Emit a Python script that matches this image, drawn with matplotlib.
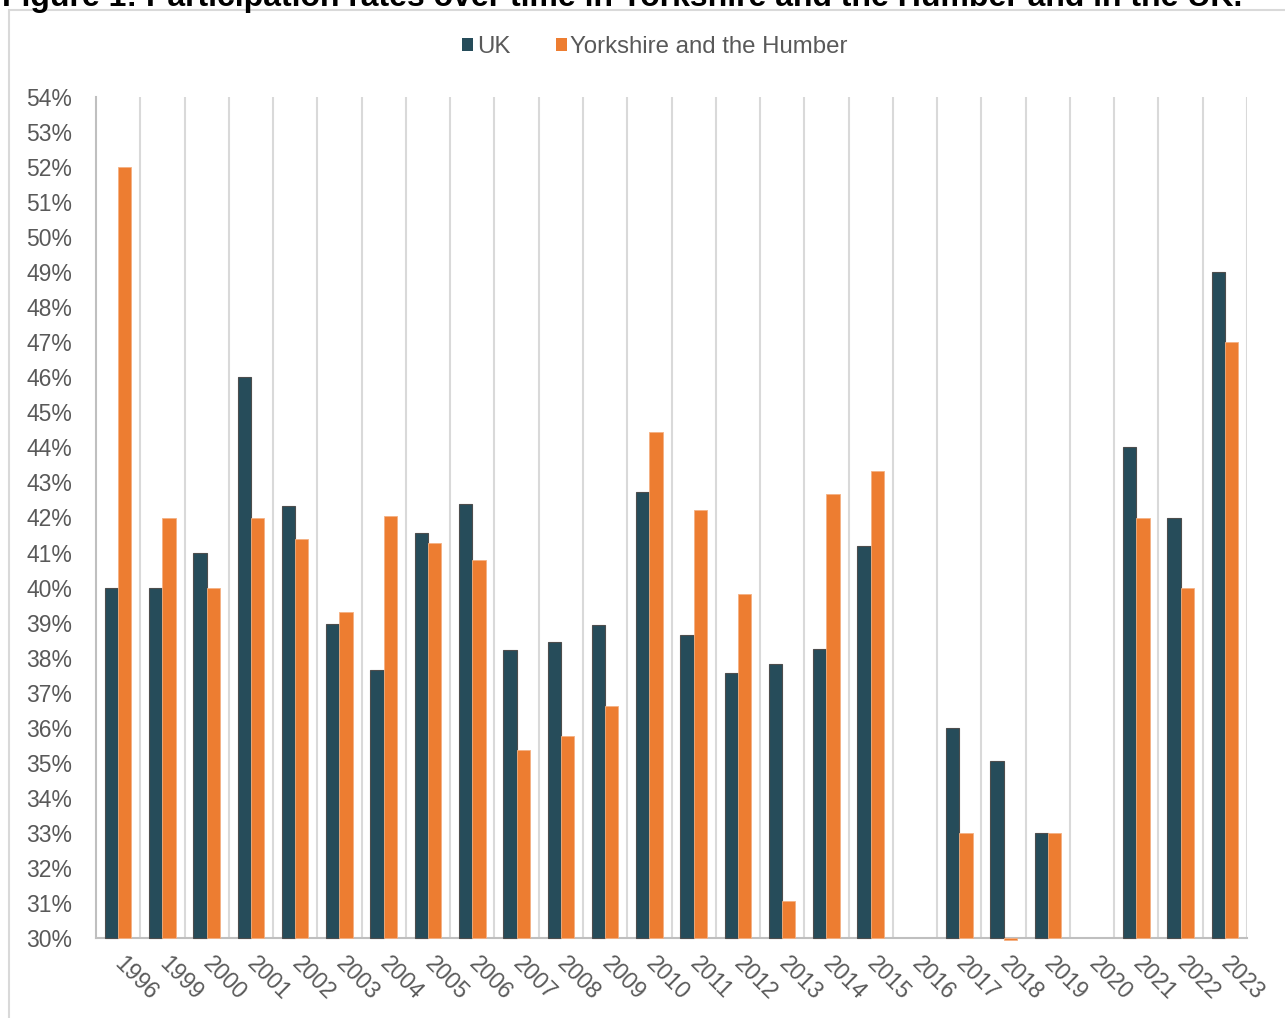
import matplotlib
matplotlib.use("Agg")
import matplotlib.pyplot as plt
from matplotlib.patches import Rectangle
import numpy as np

plt.rcParams['font.family'] = ['Liberation Sans', 'DejaVu Sans']

years = ['1996', '1999', '2000', '2001', '2002', '2003', '2004', '2005', '2006',
         '2007', '2008', '2009', '2010', '2011', '2012', '2013', '2014', '2015',
         '2016', '2017', '2018', '2019', '2020', '2021', '2022', '2023']
uk = [40.0, 40.0, 41.0, 46.0, 42.34, 38.96, 37.65, 41.57, 42.39,
      38.22, 38.45, 38.93, 42.74, 38.65, 37.55, 37.81, 38.25, 41.2,
      np.nan, 36.0, 35.05, 33.0, np.nan, 44.0, 42.0, 49.0]
yorks = [52.0, 42.0, 40.0, 42.0, 41.38, 39.31, 42.03, 41.26, 40.79,
         35.37, 35.77, 36.62, 44.44, 42.21, 39.81, 31.06, 42.67, 43.33,
         np.nan, 33.0, 29.95, 33.0, np.nan, 42.0, 40.0, 47.0]
y_ticks = list(range(30, 55))
title = "Figure 1: Participation rates over time in Yorkshire and the Humber and in the UK."

UK_COL = '#264C5A'
YH_COL = '#ED7D31'
TXT = '#595959'
BASE = 30

W, H = 1285, 1018
fig = plt.figure(figsize=(W / 100, H / 100), dpi=100)

# chart border
fig.patches.append(Rectangle((9 / W, -0.01), 1.1, 1 - 10 / H + 0.01,
                             transform=fig.transFigure, fill=False,
                             edgecolor='#d9d9d9', linewidth=1.5))
fig.text(2 / W, 1 - 6 / H, title, fontsize=23, fontweight='bold',
         color='black', ha='left', va='baseline')

ax = fig.add_axes([96 / W, 1 - 938 / H, (1247 - 96) / W, (938 - 97) / H])
x = np.arange(len(years))
bw = 0.30
uk_arr = np.array(uk)
yh_arr = np.array(yorks)
ax.bar(x - bw / 2, uk_arr - BASE, bw, bottom=BASE, color=UK_COL,
       edgecolor='#4d4d4d', linewidth=0.8, label='UK', zorder=3, clip_on=False)
ax.bar(x + bw / 2, yh_arr - BASE, bw, bottom=BASE, color=YH_COL,
       edgecolor='#F4B183', linewidth=0.6, label='Yorkshire and the Humber',
       zorder=3, clip_on=False)

ax.set_xlim(-0.5, len(years) - 0.5)
ax.set_ylim(30, 54)
ax.set_yticks(y_ticks)
ax.set_yticklabels([f'{t}%' for t in y_ticks])
ax.set_xticks(x)
ax.set_xticklabels(years, rotation=-45, ha='left', va='center',
                   rotation_mode='anchor')

# vertical category gridlines
for b in np.arange(0.5, len(years) - 0.5, 1.0):
    ax.axvline(b, color='#d9d9d9', linewidth=1.5, zorder=1)
ax.axvline(len(years) - 0.5, color='#d9d9d9', linewidth=1.5, zorder=1)

for s in ['top', 'right']:
    ax.spines[s].set_visible(False)
ax.spines['left'].set_color('#bfbfbf')
ax.spines['left'].set_linewidth(1.5)
ax.spines['bottom'].set_color('#bfbfbf')
ax.spines['bottom'].set_linewidth(1.5)
ax.tick_params(axis='y', length=0, pad=17, labelsize=16.5, labelcolor=TXT)
ax.tick_params(axis='x', length=0, pad=16, labelsize=16.5, labelcolor=TXT)

leg = fig.legend(loc='center', bbox_to_anchor=(655 / W, 1 - 47 / H), ncol=2,
                 frameon=False, fontsize=17.3, handlelength=0.45,
                 handleheight=0.45, handletextpad=0.15, columnspacing=1.9,
                 labelcolor=TXT)
for h in leg.legend_handles:
    h.set_edgecolor('none')

fig.savefig('out.png', dpi=100)
